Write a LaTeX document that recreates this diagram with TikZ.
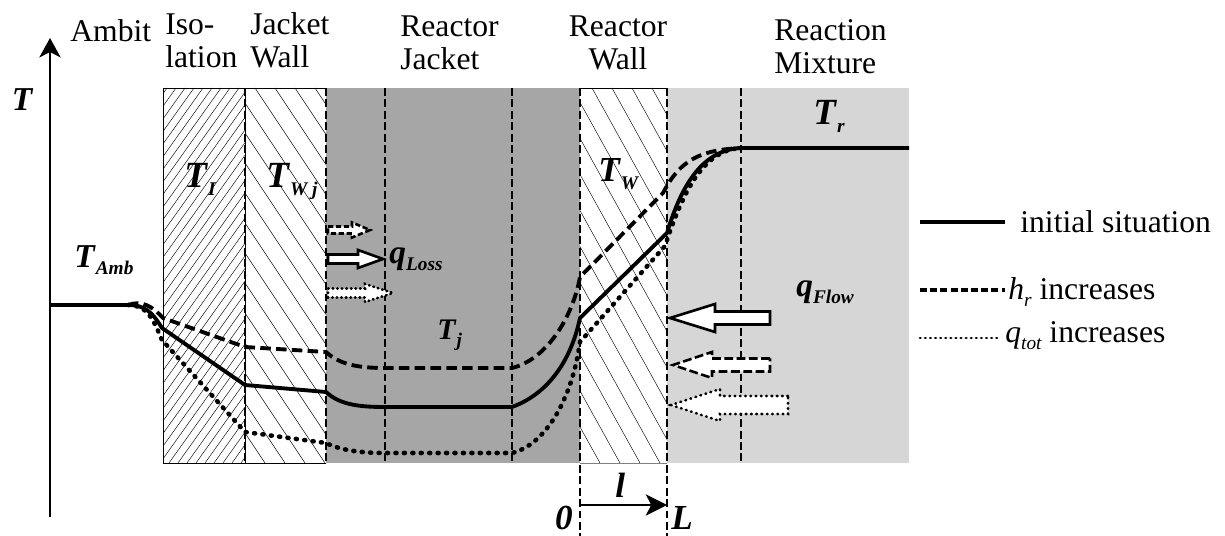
\documentclass[tikz,border=0pt]{standalone}
\usepackage{fontspec}
\setmainfont{Liberation Serif}
\usetikzlibrary{arrows.meta}

% bold italic symbol with a subscript
\newcommand{\tsub}[2]{\textbf{\textit{#1}}\raisebox{-0.45ex}{\fontsize{11}{11}\selectfont\bfseries\itshape #2}}
% hollow block arrow: style, tail x, head base x, tip x, y, half shaft, half head
\newcommand{\blockarrow}[7]{%
  \draw[#1] (#2,{#5-#6}) -- (#3,{#5-#6}) -- (#3,{#5-#7}) -- (#4,#5)
    -- (#3,{#5+#7}) -- (#3,{#5+#6}) -- (#2,{#5+#6}) -- cycle;}

\begin{document}
\begin{tikzpicture}[
        x=0.02cm, y=-0.02cm,
        font=\fontsize{18}{19}\selectfont,
        header/.style={anchor=base west, align=left, inner sep=0pt},
        sym/.style={anchor=base west, inner sep=0pt},
        divider/.style={line width=1.5pt, dash pattern=on 4.5pt off 2pt},
        subdivider/.style={line width=1.1pt, dash pattern=on 4.5pt off 2pt},
        hatch/.style={line width=0.25pt},
        initial/.style={line width=2.2pt, line join=round},
        hrcurve/.style={line width=2.2pt, dash pattern=on 6pt off 3pt},
        qtotcurve/.style={line width=2.6pt, line cap=round, dash pattern=on 0.6pt off 4.2pt},
        block/.style={fill=white, line width=1.5pt, line join=miter}
    ]

    \useasboundingbox (0,0) rectangle (1225,536);

    % layers
    \fill[black!35] (326,88) rectangle (580,463);
    \fill[black!16] (667,88) rectangle (909,463);

    \begin{scope}
        \clip (163,88) rectangle (245,463);
        \foreach \s in {-110,-101,...,245}
            \draw[hatch] (\s,463) -- ++(268,-375);
    \end{scope}
    \begin{scope}
        \clip (245,88) rectangle (326,463);
        \foreach \s in {-5,15,...,326}
            \draw[hatch] (\s,88) -- ++(250,375);
    \end{scope}
    \begin{scope}
        \clip (580,88) rectangle (667,463);
        \foreach \s in {372,392,...,667}
            \draw[hatch] (\s,88) -- ++(208,375);
    \end{scope}

    \draw[line width=0.5pt] (163,88) rectangle (245,463);
    \draw[line width=0.5pt] (245,88) -- (326,88) (245,463) -- (326,463);
    \draw[line width=0.5pt] (580,88) -- (667,88);
    \draw[line width=0.5pt, black!50] (580,463) -- (667,463);

    % boundaries
    \foreach \x in {245,326}
        \draw[divider] (\x,88) -- (\x,463);
    \foreach \x in {385,512,741}
        \draw[subdivider] (\x,88) -- (\x,463);
    \foreach \x in {580,667}
        \draw[subdivider] (\x,88) -- (\x,540);

    % temperature axis
    \coordinate (axisbottom) at (50,517);
    \coordinate (axistop) at (50,38);
    \draw[line width=1.7pt, -{Stealth[length=11pt, width=12pt, inset=3pt]}] (axisbottom) -- (axistop);

    % profiles
    \draw[initial] (50,305) -- (128,305) .. controls (145,305) and (152,312) .. (162,328)
        -- (245,385) -- (326,392) .. controls (340,405) and (360,407) .. (385,407)
        -- (512,407) .. controls (545,395) and (570,365) .. (580,318)
        -- (667,233) .. controls (680,190) and (700,150) .. (741,148) -- (909,148);
    \draw[hrcurve] (128,305) .. controls (142,300) and (152,306) .. (163,318)
        -- (245,347) -- (326,352) .. controls (340,365) and (360,368) .. (385,368)
        -- (512,368) .. controls (545,360) and (572,320) .. (580,277)
        -- (663,193) .. controls (680,160) and (700,150) .. (741,148);
    \draw[qtotcurve] (128,305) .. controls (150,305) and (155,325) .. (162,340)
        -- (245,432) -- (326,443) .. controls (340,450) and (360,453) .. (385,453)
        -- (512,453) .. controls (545,445) and (572,400) .. (580,342)
        -- (665,246) .. controls (682,195) and (702,150) .. (741,148);

    % heat flows
    \blockarrow{block, dash pattern=on 3pt off 1.5pt}{328}{352}{370}{230}{3.5}{7.5}
    \blockarrow{block}{328}{358}{383}{259}{4.5}{9}
    \blockarrow{block, line cap=round, dash pattern=on 0.4pt off 2.2pt}{328}{365}{393}{293}{4.5}{9}
    \blockarrow{block}{770}{715}{670}{318}{6.5}{14}
    \blockarrow{block, dash pattern=on 5pt off 2pt}{770}{712}{673}{365}{6.5}{13}
    \blockarrow{block, line cap=round, dash pattern=on 0.4pt off 2.6pt}{788}{720}{671}{405}{9}{16}

    % headers
    \node[header] (ambit) at (70,42) {Ambit};
    \node[header] (isolation) at (165,68) {Iso-\\lation};
    \node[header] (jacketwall) at (250,68) {Jacket\\Wall};
    \node[header] (reactorjacket) at (400,70) {Reactor\\Jacket};
    \node[header, anchor=base, align=center] (reactorwall) at (618,70) {Reactor\\Wall};
    \node[header] (reactionmix) at (774,74) {Reaction\\Mixture};

    % temperatures
    \node[inner sep=0pt, font=\fontsize{19}{19}\selectfont\bfseries\itshape] (taxis) at (22,100) {T};
    \node[sym, font=\fontsize{19}{19}\selectfont] (tamb) at (74,268) {\tsub{T}{Amb}};
    \node[sym, font=\fontsize{21}{21}\selectfont] (tiso) at (184,188) {\tsub{T}{I}};
    \node[sym, font=\fontsize{21}{21}\selectfont] (twj) at (266,188) {\tsub{T}{W j}};
    \node[sym, font=\fontsize{17}{17}\selectfont] (tj) at (437,340) {\tsub{T}{j}};
    \node[sym, font=\fontsize{20}{20}\selectfont] (tw) at (598,182) {\tsub{T}{W}};
    \node[sym, font=\fontsize{21}{21}\selectfont] (tr) at (813,125) {\tsub{T}{r}};
    \node[sym, font=\fontsize{19}{19}\selectfont] (qloss) at (389,264) {\tsub{q}{Loss}};
    \node[sym, font=\fontsize{19}{19}\selectfont] (qflow) at (796,297) {\tsub{q}{Flow}};

    % wall coordinate
    \coordinate (wallin) at (580,505);
    \coordinate (wallout) at (667,505);
    \draw[line width=1.6pt, -{Stealth[length=12pt, width=12pt, inset=3pt]}] (wallin) -- (wallout);
    \node[sym, font=\fontsize{20}{20}\selectfont\bfseries\itshape] (lvar) at (615,498) {l};
    \node[sym, anchor=base, font=\fontsize{20}{20}\selectfont\bfseries\itshape] (zero) at (564,530) {0};
    \node[sym, font=\fontsize{20}{20}\selectfont\bfseries\itshape] (lend) at (671,530) {L};

    % legend
    \draw[initial] (920,222) -- (1005,222);
    \node[sym] (leginit) at (1020,233) {initial situation};
    \draw[line width=1.8pt, dash pattern=on 4pt off 1.8pt] (920,290) -- (1005,290);
    \node[sym] (leghr) at (1008,300) {\textit{h}\raisebox{-0.45ex}{\fontsize{11}{11}\selectfont\itshape r} increases};
    \draw[line width=1.6pt, line cap=round, dash pattern=on 0.3pt off 2.6pt] (920,338) -- (1000,338);
    \node[sym] (legqtot) at (1005,343) {\textit{q}\raisebox{-0.45ex}{\fontsize{11}{11}\selectfont\itshape tot} increases};

\end{tikzpicture}
\end{document}
